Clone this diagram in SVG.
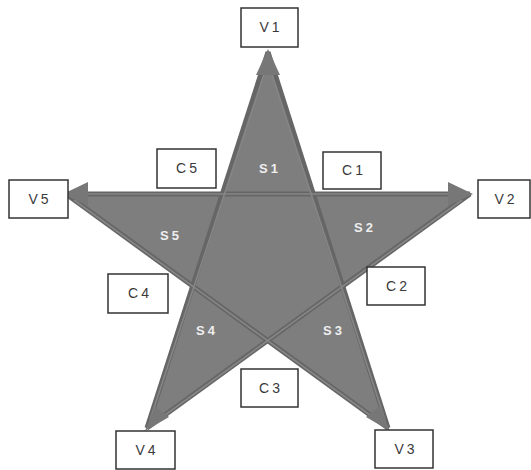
<svg xmlns="http://www.w3.org/2000/svg" width="531" height="470" viewBox="0 0 531 470">
<defs>
<style>
.box{fill:#fff;stroke:#333;stroke-width:1.5}
.lbl{font-family:"Liberation Sans",Arial,sans-serif;font-size:14px;fill:#3a3a3a;text-anchor:middle;letter-spacing:3px}
.sl{font-family:"Liberation Sans",Arial,sans-serif;font-size:13px;font-weight:bold;fill:#eeeeee;text-anchor:middle;letter-spacing:3px}
.edge{stroke:#666;stroke-width:5;fill:none}
.edgein{stroke:#868686;stroke-width:1.6;fill:none}
.head{fill:#777}
</style>
</defs>
<rect width="531" height="470" fill="#fff"/>
<g id="star">
<polygon points="268,52 312.9,194 470,194 342.4,287 388,428 268,341.3 147,428 193.6,287 66,194 223.1,194" fill="#7e7e7e"/>
</g>
<g id="connectors">
<line class="edge" x1="268" y1="52" x2="388" y2="428"/>
<line class="edge" x1="268" y1="52" x2="147" y2="428"/>
<line class="edge" x1="66" y1="194" x2="470" y2="194"/>
<line class="edge" x1="66" y1="194" x2="388" y2="428"/>
<line class="edge" x1="470" y1="194" x2="147" y2="428"/>
<line class="edgein" x1="268" y1="62" x2="385" y2="420"/>
<line class="edgein" x1="268" y1="62" x2="150" y2="420"/>
<line class="edgein" x1="76" y1="194" x2="460" y2="194"/>
<line class="edgein" x1="74" y1="200" x2="381" y2="423"/>
<line class="edgein" x1="462" y1="200" x2="154" y2="423"/>
<polygon class="head" points="268,49 280,75 256,75"/>
<polygon class="head" points="473,194 448,182 448,206"/>
<polygon class="head" points="63,194 88,182 88,206"/>
<polygon class="head" points="390,431 366,417 380,406"/>
<polygon class="head" points="145,431 169,417 155,406"/>
</g>
<g id="S1"><text class="sl" x="270" y="173">S1</text></g>
<g id="S2"><text class="sl" x="365" y="232">S2</text></g>
<g id="S3"><text class="sl" x="334" y="335">S3</text></g>
<g id="S4"><text class="sl" x="207" y="335">S4</text></g>
<g id="S5"><text class="sl" x="171" y="240">S5</text></g>
<g id="V1"><rect class="box" x="241" y="8" width="57" height="39"/><text class="lbl" x="271" y="32">V1</text></g>
<g id="V2"><rect class="box" x="478" y="180" width="52" height="38"/><text class="lbl" x="506" y="204">V2</text></g>
<g id="V3"><rect class="box" x="375" y="430" width="58" height="38"/><text class="lbl" x="406" y="454">V3</text></g>
<g id="V4"><rect class="box" x="116" y="431" width="59" height="38"/><text class="lbl" x="147" y="455">V4</text></g>
<g id="V5"><rect class="box" x="9" y="180" width="59" height="38"/><text class="lbl" x="40" y="204">V5</text></g>
<g id="C1"><rect class="box" x="323" y="152" width="58" height="37"/><text class="lbl" x="354" y="175">C1</text></g>
<g id="C2"><rect class="box" x="367" y="267" width="58" height="38"/><text class="lbl" x="398" y="291">C2</text></g>
<g id="C3"><rect class="box" x="241" y="369" width="57" height="38"/><text class="lbl" x="271" y="393">C3</text></g>
<g id="C4"><rect class="box" x="108" y="274" width="60" height="39"/><text class="lbl" x="140" y="298">C4</text></g>
<g id="C5"><rect class="box" x="157" y="149" width="59" height="39"/><text class="lbl" x="188" y="173">C5</text></g>
</svg>
